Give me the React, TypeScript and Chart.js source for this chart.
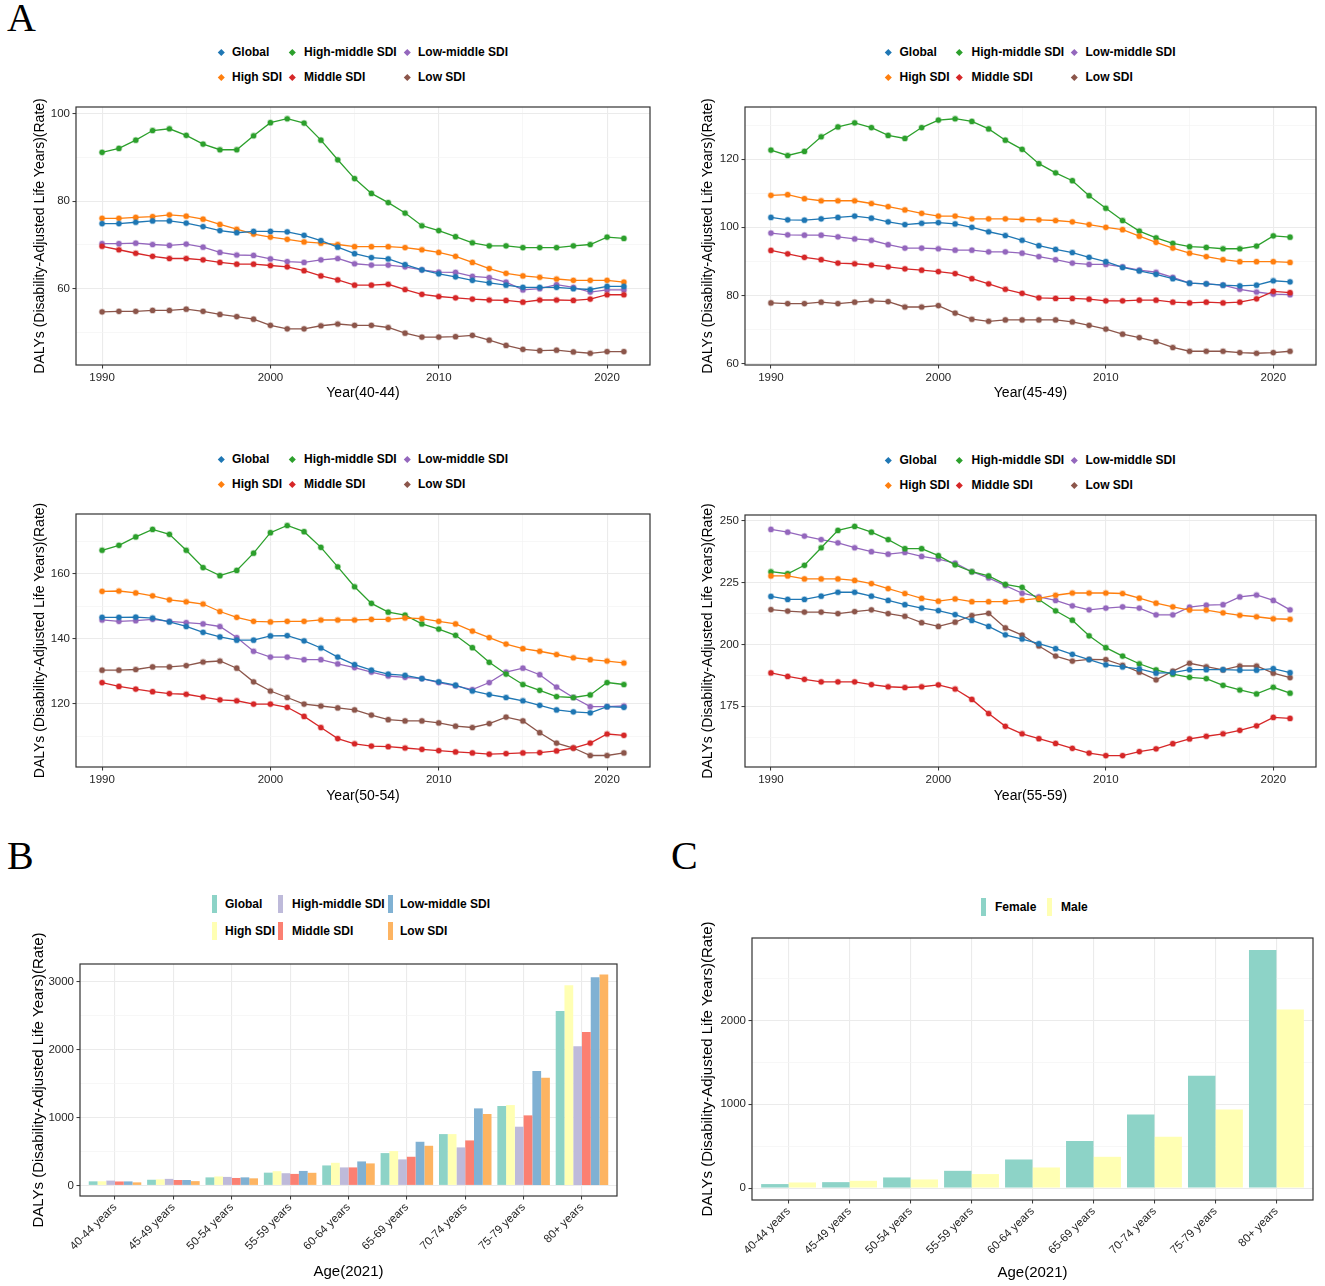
import React, { useEffect, useRef } from "react";
import { Chart, registerables } from "chart.js";
Chart.register(...registerables);

// ---------------- data ----------------
const YEARS = [1990, 1991, 1992, 1993, 1994, 1995, 1996, 1997, 1998, 1999, 2000, 2001, 2002, 2003, 2004, 2005, 2006, 2007, 2008, 2009, 2010, 2011, 2012, 2013, 2014, 2015, 2016, 2017, 2018, 2019, 2020, 2021];
const YEAR_TICKS = [1990, 1995, 2000, 2005, 2010, 2015, 2020];

const SERIES_NAMES = ["Global", "High SDI", "High-middle SDI", "Middle SDI", "Low-middle SDI", "Low SDI"];
const LINE_COLORS = ["#1F77B4", "#FF7F0E", "#2CA02C", "#D62728", "#9467BD", "#8C564B"];
const BAR_COLORS = ["#8DD3C7", "#FFFFB3", "#BEBADA", "#FB8072", "#80B1D3", "#FDB462"];

// 40-44
const global4044 = [74.9, 74.9, 75.2, 75.5, 75.5, 75.0, 74.2, 73.3, 72.8, 73.1, 73.1, 73.0, 72.2, 71.0, 69.5, 68.0, 67.1, 66.8, 65.5, 64.3, 63.4, 62.7, 61.9, 61.3, 60.8, 60.3, 60.3, 60.3, 60.0, 59.8, 60.5, 60.5];
const high4044 = [76.1, 76.1, 76.3, 76.5, 76.9, 76.6, 75.9, 74.7, 73.6, 72.5, 71.8, 71.3, 70.7, 70.4, 70.1, 69.6, 69.6, 69.6, 69.4, 68.9, 68.3, 67.4, 66.0, 64.6, 63.5, 62.9, 62.6, 62.2, 61.9, 61.9, 61.9, 61.5];
const highMid4044 = [91.2, 92.1, 94.0, 96.2, 96.6, 95.1, 93.1, 91.8, 91.8, 95.0, 98.0, 98.9, 97.9, 94.0, 89.5, 85.2, 81.8, 79.7, 77.3, 74.4, 73.3, 71.9, 70.5, 69.8, 69.8, 69.4, 69.4, 69.4, 69.8, 70.1, 71.8, 71.5];
const mid4044 = [69.7, 68.9, 68.1, 67.4, 66.9, 66.9, 66.6, 66.0, 65.6, 65.6, 65.3, 65.0, 64.1, 62.9, 62.0, 60.8, 60.8, 61.0, 59.8, 58.7, 58.2, 57.9, 57.6, 57.4, 57.3, 56.9, 57.4, 57.4, 57.3, 57.6, 58.6, 58.6];
const lowMid4044 = [70.3, 70.3, 70.4, 70.1, 69.9, 70.2, 69.5, 68.3, 67.7, 67.6, 66.8, 66.2, 66.0, 66.6, 66.9, 65.7, 65.4, 65.4, 65.0, 64.3, 63.8, 63.7, 62.8, 62.5, 61.5, 59.7, 60.0, 60.9, 60.3, 59.2, 59.7, 59.7];
const low4044 = [54.7, 54.8, 54.8, 55.0, 55.0, 55.3, 54.8, 54.1, 53.6, 53.0, 51.6, 50.8, 50.8, 51.5, 51.9, 51.6, 51.6, 51.1, 49.8, 48.9, 48.9, 49.0, 49.3, 48.2, 47.0, 46.1, 45.8, 45.9, 45.5, 45.2, 45.6, 45.6];

// 45-49
const global4549 = [102.9, 102.2, 102.1, 102.5, 102.9, 103.3, 102.7, 101.6, 100.8, 101.2, 101.4, 101.0, 100.0, 98.7, 97.6, 96.2, 94.6, 93.5, 92.6, 91.2, 89.9, 88.2, 87.2, 86.2, 84.9, 83.6, 83.4, 83.0, 82.8, 83.0, 84.3, 84.0];
const high4549 = [109.4, 109.6, 108.4, 107.8, 107.8, 107.8, 107.0, 106.1, 105.1, 104.1, 103.3, 103.3, 102.5, 102.5, 102.5, 102.3, 102.2, 102.0, 101.6, 100.8, 100.0, 99.3, 97.4, 95.6, 93.9, 92.4, 91.4, 90.5, 89.9, 89.9, 89.9, 89.7];
const highMid4549 = [122.7, 121.1, 122.3, 126.6, 129.5, 130.7, 129.3, 127.0, 126.1, 129.3, 131.5, 131.9, 131.1, 128.9, 125.6, 122.9, 118.7, 116.0, 113.7, 109.3, 105.6, 102.0, 98.9, 96.9, 95.3, 94.3, 94.1, 93.7, 93.7, 94.5, 97.5, 97.1];
const mid4549 = [93.2, 92.2, 91.2, 90.5, 89.5, 89.3, 88.9, 88.4, 87.8, 87.4, 87.0, 86.4, 84.9, 83.4, 81.8, 80.6, 79.3, 79.1, 79.1, 78.9, 78.4, 78.4, 78.6, 78.6, 78.0, 77.8, 78.0, 77.8, 78.0, 79.0, 81.2, 80.8];
const lowMid4549 = [98.3, 97.8, 97.7, 97.7, 97.2, 96.6, 96.2, 94.9, 93.9, 93.9, 93.7, 93.3, 93.3, 92.8, 92.8, 92.4, 91.4, 90.5, 89.5, 89.1, 89.1, 88.4, 87.4, 86.8, 85.3, 83.6, 83.4, 83.0, 81.8, 81.0, 80.4, 80.2];
const low4549 = [77.8, 77.6, 77.6, 78.0, 77.6, 78.0, 78.4, 78.2, 76.6, 76.6, 77.0, 74.8, 73.0, 72.4, 72.8, 72.8, 72.8, 72.8, 72.2, 71.2, 70.1, 68.6, 67.6, 66.4, 64.7, 63.6, 63.6, 63.6, 63.2, 63.0, 63.2, 63.6];

// 50-54
const global5054 = [146.6, 146.6, 146.7, 146.4, 145.2, 143.8, 142.0, 140.6, 139.6, 139.6, 140.9, 141.0, 139.4, 137.2, 134.4, 132.1, 130.4, 129.2, 128.8, 127.8, 126.8, 125.8, 124.0, 122.9, 122.0, 121.0, 119.6, 118.2, 117.6, 117.3, 119.2, 119.0];
const high5054 = [154.6, 154.7, 154.1, 153.2, 152.0, 151.4, 150.7, 148.4, 146.6, 145.4, 145.2, 145.4, 145.4, 145.8, 145.8, 145.8, 146.0, 146.0, 146.4, 146.2, 145.4, 144.6, 142.4, 140.4, 138.4, 137.0, 136.2, 135.2, 134.2, 133.6, 133.2, 132.6];
const highMid5054 = [167.2, 168.7, 171.3, 173.6, 172.1, 167.2, 161.9, 159.4, 161.0, 166.3, 172.6, 174.8, 172.9, 168.1, 162.1, 156.0, 150.9, 148.2, 147.3, 144.6, 143.0, 141.1, 137.3, 132.8, 129.2, 126.0, 124.2, 122.3, 122.0, 122.8, 126.6, 126.0];
const mid5054 = [126.6, 125.4, 124.6, 123.8, 123.2, 123.0, 122.1, 121.3, 121.0, 120.0, 120.0, 119.0, 116.2, 112.8, 109.4, 107.8, 107.1, 106.9, 106.5, 106.1, 105.7, 105.3, 105.0, 104.6, 104.8, 105.0, 105.1, 105.6, 106.5, 108.0, 110.8, 110.4];
const lowMid5054 = [145.8, 145.4, 145.6, 146.0, 145.4, 145.0, 144.6, 143.8, 140.4, 136.2, 134.4, 134.4, 133.6, 133.6, 132.3, 131.2, 129.8, 128.6, 128.2, 127.8, 126.6, 125.6, 124.4, 126.6, 129.8, 131.0, 129.0, 125.2, 122.0, 119.2, 119.2, 119.4];
const low5054 = [130.4, 130.4, 130.6, 131.4, 131.4, 131.8, 132.9, 133.2, 131.0, 126.8, 124.0, 122.0, 120.0, 119.4, 118.8, 118.2, 116.6, 115.2, 114.8, 114.8, 114.2, 113.2, 112.8, 114.0, 116.0, 114.8, 111.2, 108.0, 106.5, 104.2, 104.2, 105.0];

// 55-59
const global5559 = [219.4, 218.2, 218.2, 219.5, 221.1, 221.1, 219.5, 217.8, 216.1, 214.7, 213.7, 212.1, 209.7, 207.3, 203.9, 202.2, 200.3, 198.3, 196.0, 193.9, 191.8, 190.9, 190.1, 188.4, 188.6, 189.8, 189.8, 189.8, 189.6, 189.6, 190.2, 188.6];
const high5559 = [227.7, 227.7, 226.5, 226.5, 226.5, 225.9, 224.6, 222.6, 220.6, 218.6, 217.5, 218.4, 217.3, 217.3, 217.3, 217.9, 218.6, 219.9, 220.8, 220.8, 220.8, 220.6, 218.7, 216.7, 215.2, 213.9, 213.9, 212.8, 211.8, 211.2, 210.4, 210.2];
const highMid5559 = [229.4, 228.6, 232.0, 239.1, 246.1, 247.7, 245.4, 242.4, 238.7, 238.7, 235.9, 232.2, 229.4, 227.7, 224.3, 223.1, 218.2, 213.6, 209.8, 203.5, 198.7, 195.3, 192.2, 189.7, 188.0, 186.7, 186.2, 183.5, 181.6, 180.0, 182.7, 180.3];
const mid5559 = [188.5, 187.1, 185.9, 184.9, 184.9, 184.9, 183.8, 182.9, 182.6, 182.9, 183.7, 182.0, 177.8, 172.1, 166.9, 163.9, 161.9, 160.0, 158.0, 156.1, 155.1, 155.1, 156.7, 157.8, 159.9, 161.8, 162.9, 163.9, 165.3, 167.1, 170.5, 170.1];
const lowMid5559 = [246.5, 245.4, 243.8, 242.4, 241.1, 239.1, 237.5, 236.5, 237.2, 235.6, 234.5, 232.9, 229.4, 226.9, 223.8, 220.7, 219.2, 217.8, 215.6, 214.0, 214.7, 215.2, 214.7, 212.0, 212.0, 215.1, 215.9, 216.1, 219.2, 220.0, 217.8, 214.0];
const low5559 = [214.1, 213.5, 213.1, 213.1, 212.5, 213.3, 214.0, 212.5, 211.4, 208.8, 207.3, 209.0, 211.7, 212.6, 206.7, 203.8, 199.4, 195.3, 193.3, 194.0, 193.9, 191.6, 188.8, 185.7, 189.2, 192.4, 191.0, 189.7, 191.3, 191.3, 188.4, 186.6];

// 2021 by age group
const AGE_GROUPS = ["40-44 years", "45-49 years", "50-54 years", "55-59 years", "60-64 years", "65-69 years", "70-74 years", "75-79 years", "80+ years"];
const barGlobal = [60.5, 84.0, 119.0, 188.6, 295, 477, 757, 1171, 2573];
const barHigh = [61.5, 89.7, 132.6, 210.2, 334, 507, 757, 1185, 2951];
const barHighMid = [71.5, 97.1, 126.0, 180.3, 266, 384, 561, 866, 2051];
const barMid = [58.6, 80.8, 110.4, 170.1, 266, 423, 664, 1033, 2263];
const barLowMid = [59.7, 80.2, 119.4, 214.0, 354, 644, 1136, 1687, 3069];
const barLow = [45.6, 63.6, 105.0, 186.6, 325, 585, 1053, 1589, 3109];

const SEX_NAMES = ["Female", "Male"];
const SEX_COLORS = ["#8DD3C7", "#FFFFB3"];
const female = [48, 71, 127, 206, 341, 563, 877, 1341, 2841];
const male = [67, 87, 103, 167, 246, 373, 611, 937, 2131];

const Y_TITLE = "DALYs (Disability-Adjusted Life Years)(Rate)";

// ---------------- helpers ----------------
const SANS = "'Liberation Sans', Arial, Helvetica, sans-serif";
const TICK_COLOR = "#262626";
const PAD = { top: 45, right: 9, bottom: 2, left: 0 };

type Box = { l: number; t: number; r: number; b: number };
type Spec = { plot: Box; yTitleX: number; xTitleY: number; titleSize: number };
type Lay = { cLeft: number; cTop: number; cW: number; cH: number; yW: number; xH: number; titleX: number };

function isMajor(v: number, step: number) {
  return Math.abs(v / step - Math.round(v / step)) < 1e-6;
}
function gridValues(min: number, max: number, step: number) {
  const half = step / 2;
  const out: number[] = [];
  for (let v = Math.ceil(min / half - 1e-9) * half; v <= max + 1e-9; v += half) out.push(Math.round(v * 1000) / 1000);
  return out;
}

const panelBorder = {
  id: "panelBorder",
  afterDraw(chart: any) {
    const { ctx, chartArea } = chart;
    ctx.save();
    ctx.strokeStyle = "#333333";
    ctx.lineWidth = 1.2;
    ctx.strokeRect(chartArea.left, chartArea.top, chartArea.right - chartArea.left, chartArea.bottom - chartArea.top);
    ctx.restore();
  },
};

// vertical axis title, drawn centred on the plot panel
const yTitle = {
  id: "yTitle",
  afterDraw(chart: any, _args: any, opts: any) {
    const { ctx, chartArea } = chart;
    ctx.save();
    ctx.translate(opts.x, (chartArea.top + chartArea.bottom) / 2);
    ctx.rotate(-Math.PI / 2);
    ctx.font = `${opts.size}px ${SANS}`;
    ctx.fillStyle = "#000";
    ctx.textAlign = "center";
    ctx.textBaseline = "middle";
    ctx.fillText(opts.text, 0, 0);
    ctx.restore();
  },
};

function yScale(min: number, max: number, step: number, yW: number) {
  return {
    type: "linear",
    min,
    max,
    afterBuildTicks: (s: any) => {
      s.ticks = gridValues(min, max, step).map((v) => ({ value: v }));
    },
    afterFit: (s: any) => {
      s.width = yW;
    },
    ticks: {
      autoSkip: false,
      padding: 2.5,
      color: TICK_COLOR,
      font: { family: SANS, size: 11.5 },
      callback: (v: any) => (isMajor(Number(v), step) ? String(v) : ""),
    },
    grid: {
      color: (c: any) => (c.tick && isMajor(c.tick.value, step) ? "#EBEBEB" : "#F4F4F4"),
      lineWidth: (c: any) => (c.tick && isMajor(c.tick.value, step) ? 1.1 : 0.7),
      tickLength: 3.5,
      tickWidth: 1,
      tickColor: (c: any) => (c.tick && isMajor(c.tick.value, step) ? "#333333" : "rgba(0,0,0,0)"),
    },
    border: { display: false },
    title: { display: false },
  };
}

function layoutOf(spec: Spec): Lay {
  const scaleLeft = Math.round(spec.yTitleX - spec.titleSize / 2);
  const scaleBottom = Math.round(spec.xTitleY + spec.titleSize / 2);
  const cLeft = scaleLeft - PAD.left;
  const cTop = spec.plot.t - PAD.top;
  const cW = spec.plot.r + PAD.right - cLeft;
  const cH = scaleBottom + PAD.bottom - cTop;
  return { cLeft, cTop, cW, cH, yW: spec.plot.l - scaleLeft, xH: scaleBottom - spec.plot.b, titleX: spec.yTitleX - cLeft };
}

function ChartCanvas({ spec, build }: { spec: Spec; build: (L: Lay, size: number) => any }) {
  const ref = useRef<HTMLCanvasElement>(null);
  const L = layoutOf(spec);
  useEffect(() => {
    const chart = new Chart(ref.current as HTMLCanvasElement, build(L, spec.titleSize));
    return () => chart.destroy();
  }, []);
  return (
    <canvas
      ref={ref}
      width={L.cW}
      height={L.cH}
      style={{ position: "absolute", left: L.cLeft, top: L.cTop, width: L.cW, height: L.cH }}
    />
  );
}

function baseOptions(L: Lay, size: number) {
  return {
    responsive: false,
    animation: false,
    events: [],
    layout: { padding: PAD },
    plugins: {
      legend: { display: false },
      tooltip: { enabled: false },
      yTitle: { text: Y_TITLE, x: L.titleX, size },
    },
  };
}

function lineConfig(series: number[][], xTitle: string, step: number) {
  return (L: Lay, size: number) => {
    const all = series.flat();
    const lo = Math.min(...all);
    const hi = Math.max(...all);
    const ex = (hi - lo) * 0.05;
    const x0 = YEARS[0];
    const x1 = YEARS[YEARS.length - 1];
    const xe = (x1 - x0) * 0.05;
    return {
      type: "line",
      data: {
        datasets: series.map((vals, i) => ({
          label: SERIES_NAMES[i],
          data: vals.map((v, j) => ({ x: YEARS[j], y: v })),
          borderColor: LINE_COLORS[i],
          backgroundColor: LINE_COLORS[i],
          borderWidth: 1.3,
          pointRadius: 2.6,
          pointBorderWidth: 1.6,
          pointBackgroundColor: LINE_COLORS[i],
          pointBorderColor: LINE_COLORS[i] + "55",
          tension: 0,
          fill: false,
        })),
      },
      options: {
        ...baseOptions(L, size),
        scales: {
          x: {
            type: "linear",
            min: x0 - xe,
            max: x1 + xe,
            afterBuildTicks: (s: any) => {
              s.ticks = YEAR_TICKS.map((v) => ({ value: v }));
            },
            afterFit: (s: any) => {
              s.height = L.xH;
            },
            ticks: {
              autoSkip: false,
              maxRotation: 0,
              minRotation: 0,
              padding: 2,
              color: TICK_COLOR,
              font: { family: SANS, size: 11.5 },
              callback: (v: any) => (Number(v) % 10 === 0 ? String(v) : ""),
            },
            grid: {
              color: (c: any) => (c.tick && c.tick.value % 10 === 0 ? "#EBEBEB" : "#F4F4F4"),
              lineWidth: (c: any) => (c.tick && c.tick.value % 10 === 0 ? 1.1 : 0.7),
              tickLength: 3.5,
              tickWidth: 1,
              tickColor: (c: any) => (c.tick && c.tick.value % 10 === 0 ? "#333333" : "rgba(0,0,0,0)"),
            },
            border: { display: false },
            title: { display: true, text: xTitle, color: "#000", padding: 0, font: { family: SANS, size, lineHeight: 1 } },
          },
          y: yScale(lo - ex, hi + ex, step, L.yW),
        },
      },
      plugins: [panelBorder, yTitle],
    };
  };
}

function barConfig(series: number[][], colors: string[], names: string[]) {
  return (L: Lay, size: number) => {
    const hi = Math.max(...series.flat());
    return {
      type: "bar",
      data: {
        datasets: series.map((vals, i) => ({
          label: names[i],
          data: vals.map((v, j) => ({ x: j, y: v })),
          backgroundColor: colors[i],
          borderWidth: 0,
          categoryPercentage: 0.9,
          barPercentage: 1.0,
        })),
      },
      options: {
        ...baseOptions(L, size),
        scales: {
          x: {
            type: "linear",
            offset: false,
            min: -0.6,
            max: AGE_GROUPS.length - 1 + 0.6,
            afterBuildTicks: (s: any) => {
              s.ticks = AGE_GROUPS.map((_, i) => ({ value: i }));
            },
            afterFit: (s: any) => {
              s.height = L.xH;
            },
            ticks: {
              autoSkip: false,
              maxRotation: 45,
              minRotation: 45,
              padding: 1,
              color: TICK_COLOR,
              font: { family: SANS, size: 11.5 },
              callback: (v: any) => AGE_GROUPS[Math.round(Number(v))] ?? "",
            },
            grid: {
              offset: false,
              color: "#EBEBEB",
              lineWidth: 1.1,
              tickLength: 3.5,
              tickWidth: 1,
              tickColor: "#333333",
            },
            border: { display: false },
            title: { display: true, text: "Age(2021)", color: "#000", padding: 0, font: { family: SANS, size, lineHeight: 1 } },
          },
          y: yScale(-hi * 0.05, hi * 1.05, 1000, L.yW),
        },
      },
      plugins: [panelBorder, yTitle],
    };
  };
}

// ---------------- legends ----------------
const legendText: React.CSSProperties = {
  position: "absolute",
  fontFamily: SANS,
  fontWeight: 700,
  fontSize: 12,
  lineHeight: "14px",
  color: "#000",
  whiteSpace: "nowrap",
};

function LineLegend({ plot }: { plot: Box }) {
  const cx = (plot.l + plot.r) / 2;
  const markerDx = [-142, -71, 44];
  const textDx = [-131, -59, 55];
  const rowDy = [-55, -30];
  const items: any[] = [];
  SERIES_NAMES.forEach((name, i) => {
    const col = Math.floor(i / 2);
    const row = i % 2;
    const y = plot.t + rowDy[row];
    items.push(
      <div
        key={"m" + i}
        style={{
          position: "absolute",
          left: cx + markerDx[col] - 2.3,
          top: y - 2.3,
          width: 4.6,
          height: 4.6,
          background: LINE_COLORS[i],
          transform: "rotate(45deg)",
        }}
      />
    );
    items.push(
      <div key={"t" + i} style={{ ...legendText, left: cx + textDx[col], top: y - 7 }}>
        {name}
      </div>
    );
  });
  return <>{items}</>;
}

function BarLegend({ plot, names, colors, keyDx, textDx, rowDy }: { plot: Box; names: string[]; colors: string[]; keyDx: number[]; textDx: number[]; rowDy: number[] }) {
  const cx = (plot.l + plot.r) / 2;
  const rows = rowDy.length;
  return (
    <>
      {names.map((name, i) => {
        const col = rows > 1 ? Math.floor(i / rows) : i;
        const row = rows > 1 ? i % rows : 0;
        const y = plot.t + rowDy[row];
        return (
          <React.Fragment key={name}>
            <div
              style={{
                position: "absolute",
                left: cx + keyDx[col] - 2.5,
                top: y - 9,
                width: 5,
                height: 18,
                background: colors[i],
              }}
            />
            <div style={{ ...legendText, left: cx + textDx[col], top: y - 7 }}>{name}</div>
          </React.Fragment>
        );
      })}
    </>
  );
}

const letterStyle: React.CSSProperties = {
  position: "absolute",
  fontFamily: "'Liberation Serif', 'Times New Roman', serif",
  fontSize: 40,
  lineHeight: "40px",
  color: "#000",
};

// ---------------- layout ----------------
const SPEC_A1: Spec = { plot: { l: 76, t: 107, r: 650, b: 365 }, yTitleX: 40, xTitleY: 393, titleSize: 14 };
const SPEC_A2: Spec = { plot: { l: 745, t: 107, r: 1316, b: 365 }, yTitleX: 708, xTitleY: 393, titleSize: 14 };
const SPEC_A3: Spec = { plot: { l: 76, t: 514, r: 650, b: 767 }, yTitleX: 40, xTitleY: 796, titleSize: 14 };
const SPEC_A4: Spec = { plot: { l: 745, t: 515, r: 1316, b: 767 }, yTitleX: 708, xTitleY: 796, titleSize: 14 };
const SPEC_B: Spec = { plot: { l: 80, t: 964, r: 617, b: 1196 }, yTitleX: 39, xTitleY: 1271, titleSize: 15 };
const SPEC_C: Spec = { plot: { l: 752, t: 938, r: 1313, b: 1200 }, yTitleX: 708, xTitleY: 1272, titleSize: 15 };

export default function App() {
  return (
    <div style={{ position: "absolute", left: 0, top: 0, width: 1325, height: 1286, background: "#fff", overflow: "hidden" }}>
      <div style={{ ...letterStyle, left: 7, top: -2 }}>A</div>
      <div style={{ ...letterStyle, left: 7, top: 836 }}>B</div>
      <div style={{ ...letterStyle, left: 671, top: 836 }}>C</div>

      <LineLegend plot={SPEC_A1.plot} />
      <LineLegend plot={SPEC_A2.plot} />
      <LineLegend plot={SPEC_A3.plot} />
      <LineLegend plot={SPEC_A4.plot} />

      <ChartCanvas spec={SPEC_A1} build={lineConfig([global4044, high4044, highMid4044, mid4044, lowMid4044, low4044], "Year(40-44)", 20)} />
      <ChartCanvas spec={SPEC_A2} build={lineConfig([global4549, high4549, highMid4549, mid4549, lowMid4549, low4549], "Year(45-49)", 20)} />
      <ChartCanvas spec={SPEC_A3} build={lineConfig([global5054, high5054, highMid5054, mid5054, lowMid5054, low5054], "Year(50-54)", 20)} />
      <ChartCanvas spec={SPEC_A4} build={lineConfig([global5559, high5559, highMid5559, mid5559, lowMid5559, low5559], "Year(55-59)", 25)} />

      <BarLegend plot={SPEC_B.plot} names={SERIES_NAMES} colors={BAR_COLORS} keyDx={[-134, -68, 41.5]} textDx={[-123.5, -56.5, 51.5]} rowDy={[-60, -33]} />
      <ChartCanvas spec={SPEC_B} build={barConfig([barGlobal, barHigh, barHighMid, barMid, barLowMid, barLow], BAR_COLORS, SERIES_NAMES)} />

      <BarLegend plot={SPEC_C.plot} names={SEX_NAMES} colors={SEX_COLORS} keyDx={[-49, 17]} textDx={[-37.5, 28.5]} rowDy={[-31]} />
      <ChartCanvas spec={SPEC_C} build={barConfig([female, male], SEX_COLORS, SEX_NAMES)} />
    </div>
  );
}
